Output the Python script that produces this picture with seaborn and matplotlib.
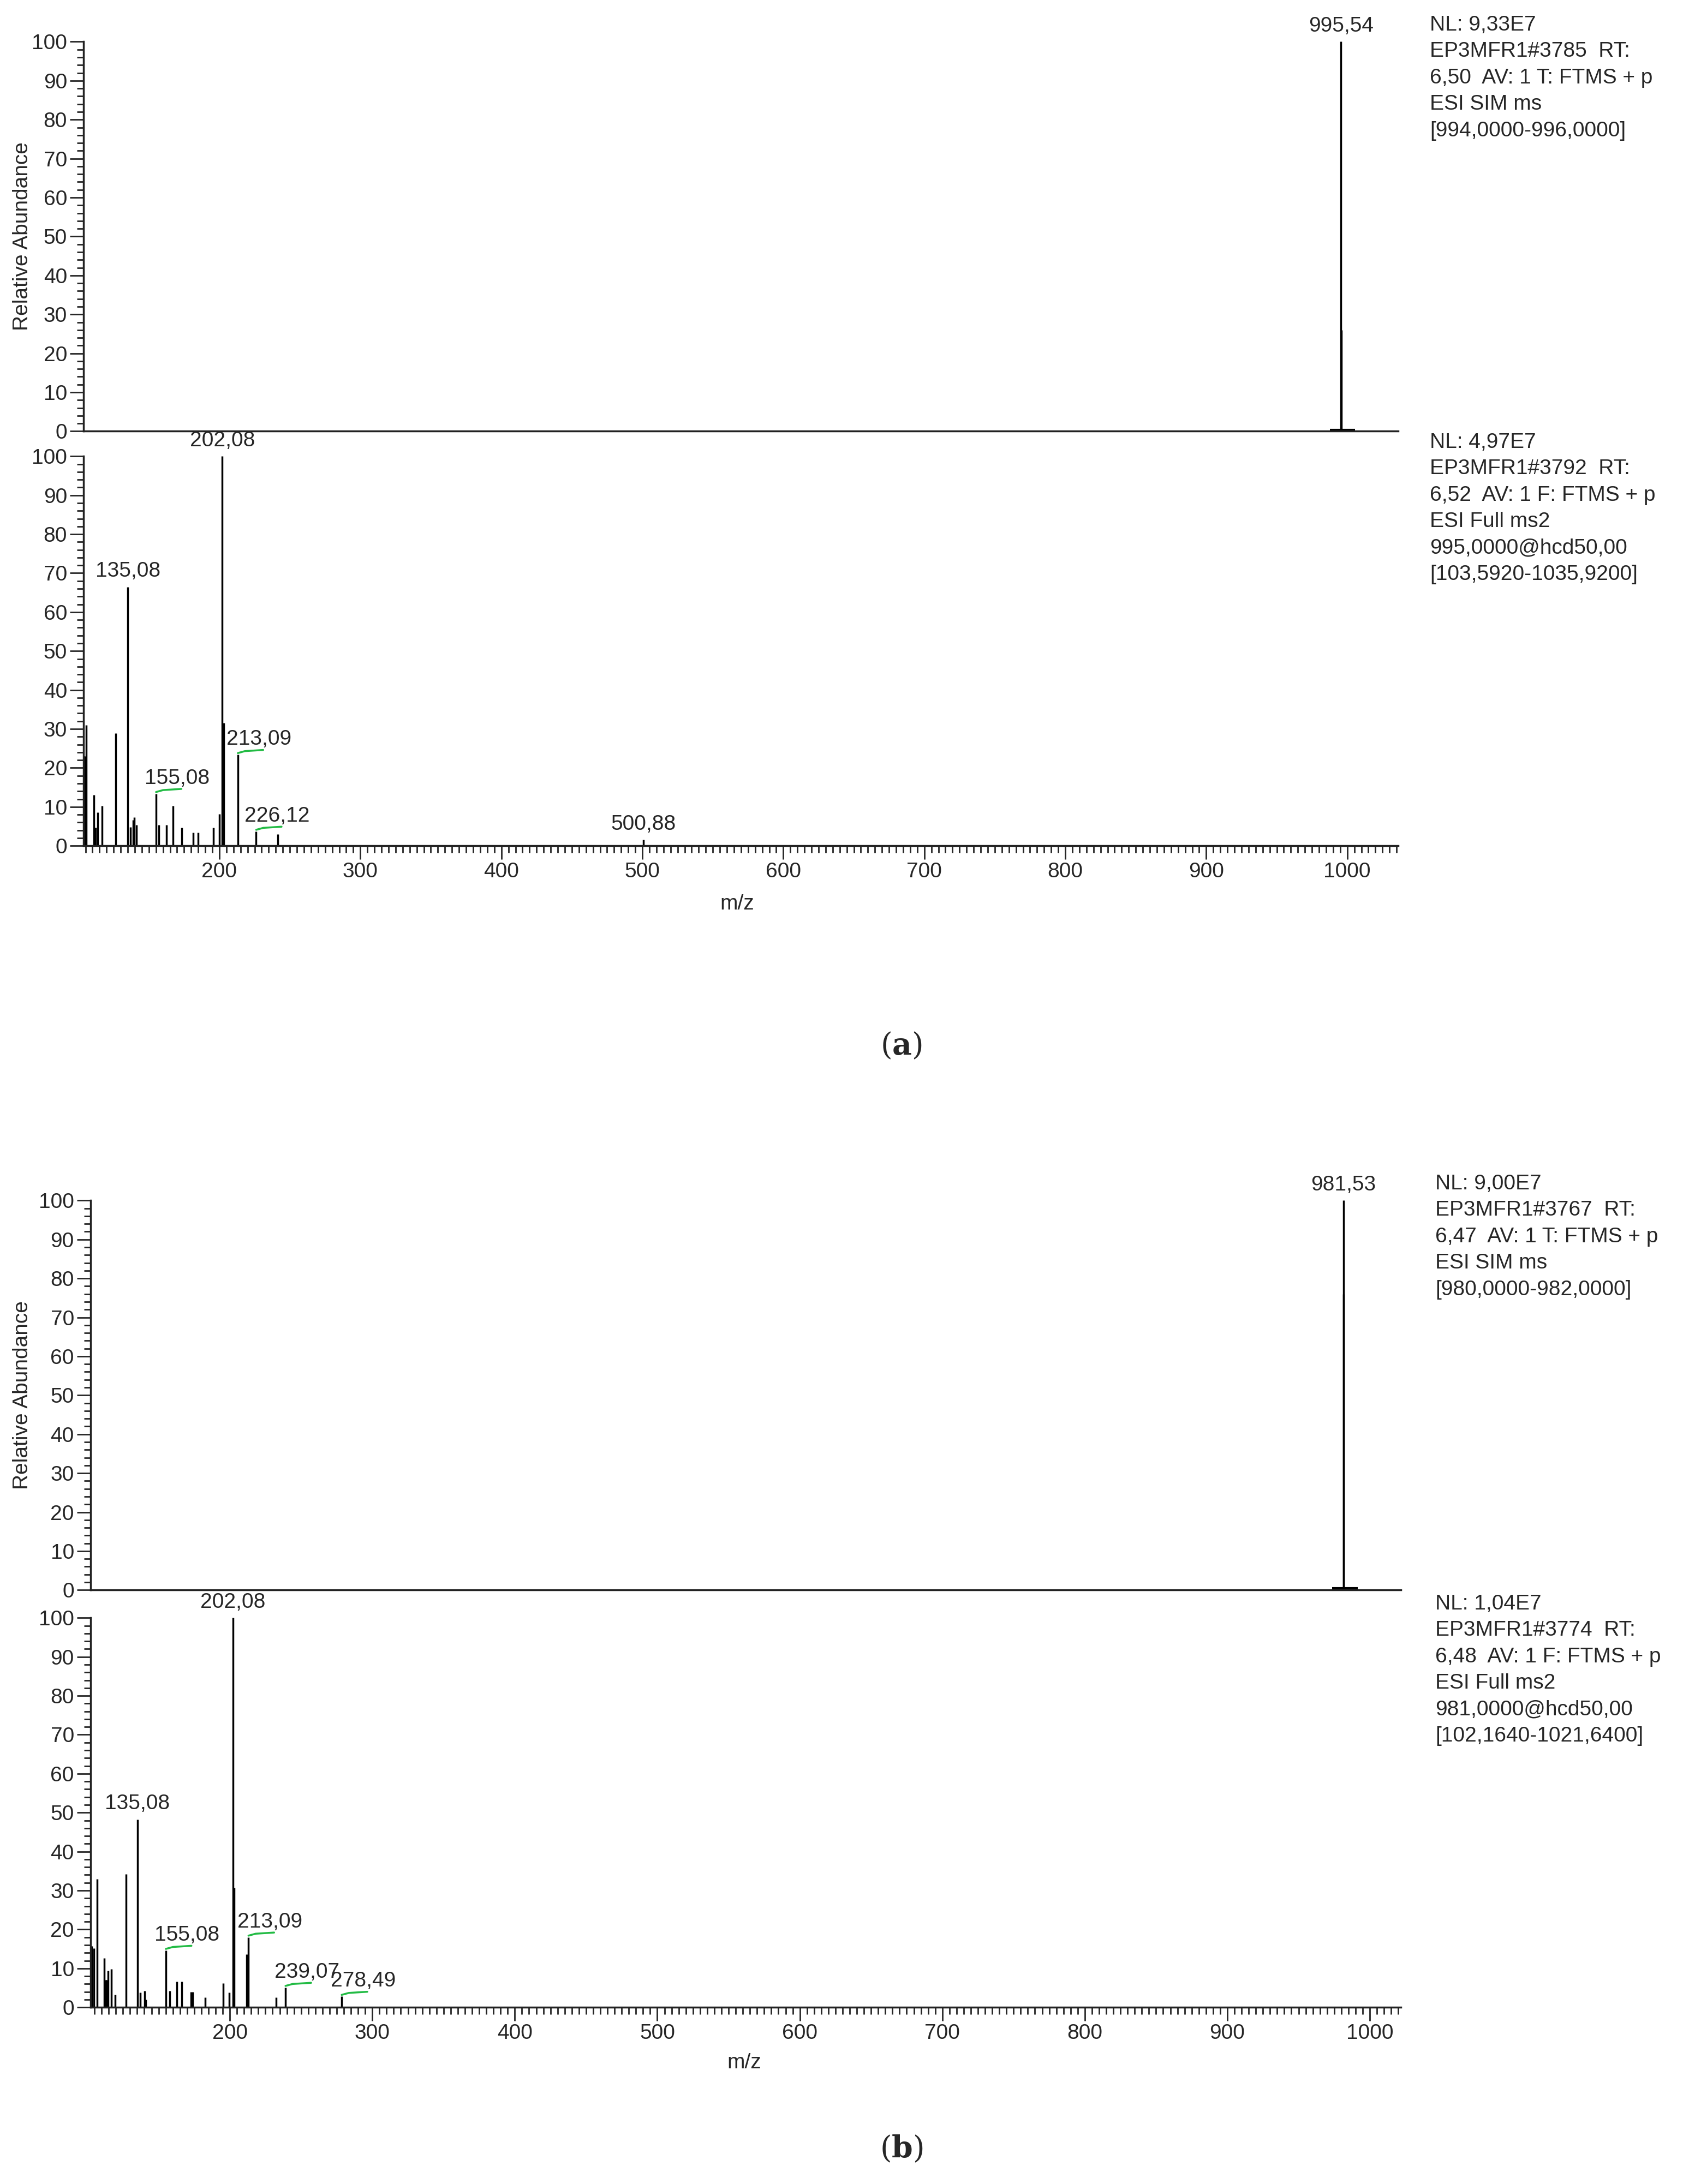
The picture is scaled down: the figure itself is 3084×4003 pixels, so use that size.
import matplotlib
matplotlib.use("Agg")
import matplotlib.pyplot as plt
import seaborn as sns
import numpy as np
from matplotlib.ticker import MultipleLocator

sns.set_style("ticks")
plt.rcParams['font.family'] = ['Liberation Sans', 'DejaVu Sans']

# ---- data ----
a_sim_mz = [995.54, 995.70]
a_sim_int = [100, 26]
a_ms2_mz = [104.0, 104.5, 105.5, 110.9, 112.0, 112.3, 113.5, 116.7, 126.6, 135.08, 136.8,
            138.9, 139.8, 141.0, 155.08, 157.0, 162.6, 167.0, 173.4, 181.3, 184.8, 195.8,
            200.1, 202.08, 203.1, 213.09, 226.12, 241.5, 500.88]
a_ms2_int = [23, 23, 31, 13, 4.6, 4.6, 8.6, 10.2, 28.9, 66.4, 4.8,
             6.6, 7.3, 5.3, 13.4, 5.3, 5.3, 10.3, 4.6, 3.4, 3.4, 4.6,
             8.2, 100, 31.6, 23.4, 3.7, 3.0, 1.5]
a_labels = ["135,08", "155,08", "202,08", "213,09", "226,12", "500,88"]
a_label_mz = [135.08, 155.08, 202.08, 213.09, 226.12, 500.88]
a_label_int = [66.4, 13.4, 100, 23.4, 3.7, 1.5]

b_sim_mz = [981.53, 981.70]
b_sim_int = [100, 76]
b_ms2_mz = [102.5, 102.9, 104.4, 106.8, 112.0, 113.0, 113.3, 114.5, 116.7, 119.6, 127.1,
            135.08, 137.2, 140.2, 141.0, 155.08, 157.7, 162.8, 166.2, 172.7, 173.9, 182.6,
            195.4, 199.7, 202.08, 202.9, 211.9, 213.09, 232.4, 239.07, 278.49]
b_ms2_int = [15.7, 15.7, 15.2, 33, 12.7, 7, 7, 9.4, 9.9, 3.3, 34.2,
             48.2, 3.8, 4.2, 2, 14.6, 4.2, 6.6, 6.6, 4, 4, 2.6,
             6.2, 3.8, 100, 30.7, 13.6, 18, 2.6, 5.1, 2.8]
b_labels = ["135,08", "155,08", "202,08", "213,09", "239,07", "278,49"]
b_label_mz = [135.08, 155.08, 202.08, 213.09, 239.07, 278.49]
b_label_int = [48.2, 14.6, 100, 18, 5.1, 2.8]

a_info_sim = ["NL: 9,33E7", "EP3MFR1#3785  RT:", "6,50  AV: 1 T: FTMS + p", "ESI SIM ms", "[994,0000-996,0000]"]
a_info_ms2 = ["NL: 4,97E7", "EP3MFR1#3792  RT:", "6,52  AV: 1 F: FTMS + p", "ESI Full ms2",
              "995,0000@hcd50,00", "[103,5920-1035,9200]"]
b_info_sim = ["NL: 9,00E7", "EP3MFR1#3767  RT:", "6,47  AV: 1 T: FTMS + p", "ESI SIM ms", "[980,0000-982,0000]"]
b_info_ms2 = ["NL: 1,04E7", "EP3MFR1#3774  RT:", "6,48  AV: 1 F: FTMS + p", "ESI Full ms2",
              "981,0000@hcd50,00", "[102,1640-1021,6400]"]
a_range = (103.592, 1035.92)
b_range = (102.164, 1021.64)

W, H = 1210.0, 1570.0
fig = plt.figure(figsize=(30.84, 40.03), dpi=100)
FS = 28

def add_ax(l, r, t, b):
    return fig.add_axes([l / W, 1 - b / H, (r - l) / W, (b - t) / H])

def style(ax, xr, xlabels):
    ax.set_xlim(*xr)
    ax.set_ylim(0, 100)
    sns.despine(ax=ax, top=True, right=True)
    for s in ["left", "bottom"]:
        ax.spines[s].set_linewidth(2.5)
        ax.spines[s].set_color("#222222")
    ax.yaxis.set_major_locator(MultipleLocator(10))
    ax.yaxis.set_minor_locator(MultipleLocator(2))
    ax.xaxis.set_minor_locator(MultipleLocator(5))
    ax.tick_params(axis="y", which="major", length=18, width=2, labelsize=FS, direction="out")
    ax.tick_params(axis="y", which="minor", length=9, width=2, direction="out")
    ax.tick_params(axis="x", which="major", length=18, width=2, labelsize=FS, direction="out")
    ax.tick_params(axis="x", which="minor", length=9, width=2, direction="out")
    if not xlabels:
        ax.set_xticks([])
        ax.set_xticks([], minor=True)
    else:
        ticks = np.arange(200, xr[1], 100)
        ax.set_xticks(ticks)
        ax.set_xticklabels([str(int(v)) for v in ticks])

def info(lines, x, y):
    for i, s in enumerate(lines):
        fig.text(x / W, 1 - (y + i * 19) / H, s, fontsize=FS, ha="left", va="center")

def labels(ax, mzs, ints, texts):
    for m, v, t in zip(mzs, ints, texts):
        if t in ("135,08", "202,08", "500,88"):
            ax.text(m, v + 1.5, t, fontsize=FS, ha="center", va="bottom", clip_on=False)
        else:
            ax.plot([m, m + 5, m + 18], [v + 0.4, v + 0.9, v + 1.2], color="#22bb44", lw=2.5)
            ax.text(m + 15, v + 1.4, t, fontsize=FS, ha="center", va="bottom", clip_on=False)

def panel(xr, sim_mz, sim_int, ms2_mz, ms2_int, lab_mz, lab_int, lab_txt, box, info1, info2, mzlab, letter):
    l, r, t1, b1, t2, b2 = box
    ax1 = add_ax(l, r, t1, b1)
    ax1.vlines(sim_mz, 0, sim_int, color="black", lw=2.5)
    ax1.hlines(0.4, sim_mz[0] - 8, sim_mz[0] + 10, color="black", lw=3)
    ax1.text(sim_mz[0], 101.5, f"{sim_mz[0]:.2f}".replace(".", ","), fontsize=FS, ha="center", va="bottom", clip_on=False)
    style(ax1, xr, False)
    ax2 = add_ax(l, r, t2, b2)
    ax2.vlines(ms2_mz, 0, ms2_int, color="black", lw=2.5)
    style(ax2, xr, True)
    labels(ax2, lab_mz, lab_int, lab_txt)
    fig.text(mzlab[0] / W, 1 - mzlab[1] / H, "m/z", fontsize=FS, ha="center", va="center")
    fig.text(16 / W, 1 - (t1 + b1) / 2 / H, "Relative Abundance", rotation=90, fontsize=FS, ha="center", va="center")
    xi = 1028 if letter == "a" else 1032
    info(info1, xi, t1 - 12)
    info(info2, xi, t2 - 10)
    fig.text(648 / W, 1 - (752 if letter == "a" else 1545) / H, r"($\mathbf{" + letter + "}$)",
             fontsize=40, ha="center", va="center", fontfamily="DejaVu Serif", math_fontfamily="dejavuserif")

panel(a_range, a_sim_mz, a_sim_int, a_ms2_mz, a_ms2_int, a_label_mz, a_label_int, a_labels,
      (60, 1005, 30, 310, 328, 608), a_info_sim, a_info_ms2, (530, 650), "a")
panel(b_range, b_sim_mz, b_sim_int, b_ms2_mz, b_ms2_int, b_label_mz, b_label_int, b_labels,
      (65, 1007, 863, 1143, 1163, 1443), b_info_sim, b_info_ms2, (535, 1483), "b")

fig.savefig("out.png", dpi=100, facecolor="white")
